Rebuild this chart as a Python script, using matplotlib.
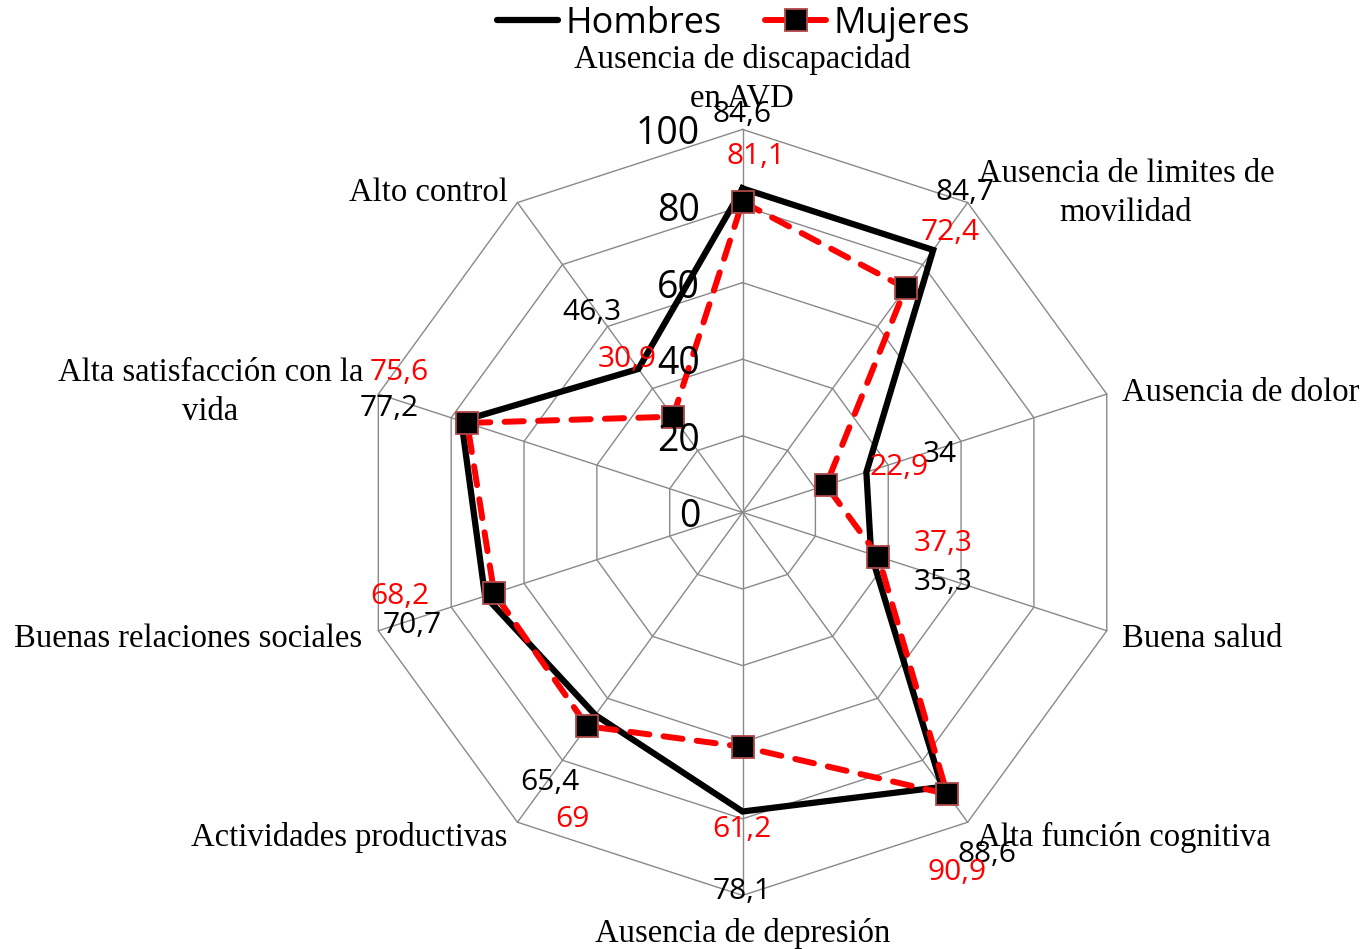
import numpy as np
import matplotlib.pyplot as plt
from matplotlib.lines import Line2D

# Datos
categorias = [
    "Ausencia de discapacidad\nen AVD",
    "Ausencia de limites de\nmovilidad",
    "Ausencia de dolor",
    "Buena salud",
    "Alta función cognitiva",
    "Ausencia de depresión",
    "Actividades productivas",
    "Buenas relaciones sociales",
    "Alta satisfacción con la\nvida",
    "Alto control",
]
hombres = [84.6, 84.7, 34, 35.3, 88.6, 78.1, 65.4, 70.7, 77.2, 46.3]
mujeres = [81.1, 72.4, 22.9, 37.3, 90.9, 61.2, 69, 68.2, 75.6, 30.9]
ticks = [0, 20, 40, 60, 80, 100]

# Posiciones de las etiquetas (unidades del grafico, radio 100)
posH = [(-0.1, 105.1), (58.1, 84.7), (51.6, 16.3), (52.3, -17.1), (63.8, -88.1),
        (-0.1, -97.8), (-50.3, -69.3), (-86.3, -28.3), (-92.3, 28.3), (-39.3, 53.4)]
posM = [(3.5, 94.1), (54.2, 74.3), (40.9, 12.9), (52.3, -6.9), (56.0, -92.8),
        (-0.1, -81.6), (-44.5, -79.0), (-89.4, -20.8), (-89.7, 37.7), (-30.2, 41.1)]
posCat = [((-0.1, 114.2), 'center'), ((100.1, 84.2), 'center'), ((99.1, 32.2), 'left'),
          ((99.1, -32.2), 'left'), ((61.2, -83.9), 'left'), ((0, -109.0), 'center'),
          ((-61.5, -83.9), 'right'), ((-99.3, -32.2), 'right'), ((-139.0, 32.2), 'center'),
          ((-61.2, 84.5), 'right')]

n = len(categorias)
ang = np.arange(n) * 2 * np.pi / n


def xy(vals):
    v = np.asarray(vals, dtype=float)
    x = v * np.sin(ang)
    y = v * np.cos(ang)
    return np.append(x, x[0]), np.append(y, y[0])


fig = plt.figure(figsize=(13.66, 9.49), dpi=100)
ax = fig.add_axes([0, 0, 1, 1])
ax.set_xlim(-193.9, 162.8)
ax.set_ylim(-114.0, 133.8)
ax.axis('off')

gris = '#898989'
# Anillos
for t in ticks[1:]:
    gx, gy = xy([t] * n)
    ax.plot(gx, gy, color=gris, lw=1.0, zorder=1)
# Radios
for a in ang:
    ax.plot([0, 100 * np.sin(a)], [0, 100 * np.cos(a)], color=gris, lw=1.0, zorder=1)

# Series
hx, hy = xy(hombres)
ax.plot(hx, hy, color='black', lw=4.5, solid_joinstyle='miter', zorder=3)
mx, my = xy(mujeres)
ax.plot(mx, my, color='red', lw=4.3, dashes=(3.2, 2.4), dash_capstyle='round', zorder=4)
ax.plot(mx[:-1], my[:-1], ls='none', marker='s', ms=15.5, mfc='black',
        mec='#B04848', mew=1.3, zorder=5)

# Etiquetas del eje radial
for t in ticks:
    ax.text(-11.1, t - 1.3, str(t), ha='right', va='center', fontsize=27,
            family='Open Sans', zorder=6)

# Etiquetas de datos
for i in range(n):
    ax.text(posH[i][0], posH[i][1] - 1.1, f"{hombres[i]:g}".replace('.', ','), ha='center',
            va='center', fontsize=21.5, family='Open Sans', color='black', zorder=6)
    ax.text(posM[i][0], posM[i][1] - 1.1, f"{mujeres[i]:g}".replace('.', ','), ha='center',
            va='center', fontsize=21.5, family='Open Sans', color='red', zorder=6)

# Categorias
for i, c in enumerate(categorias):
    (cx, cy), ha = posCat[i]
    ax.text(cx, cy - 0.9, c, ha=ha, va='center', multialignment='center', fontsize=23.5,
            family='Liberation Serif', linespacing=1.35, zorder=6)

# Leyenda
handles = [
    Line2D([], [], color='black', lw=4.5, solid_capstyle='round'),
    Line2D([], [], color='red', lw=4.3, solid_capstyle='round', marker='s', ms=15.5,
           mfc='black', mec='#B04848', mew=1.3),
]
fig.legend(handles, ['Hombres', 'Mujeres'], loc='upper center', bbox_to_anchor=(0.537, 1.028),
           ncol=2, frameon=False, prop={'family': 'Open Sans', 'size': 26},
           handlelength=1.7, handletextpad=0.2, columnspacing=1.2)

fig.savefig('out.png', dpi=100)
